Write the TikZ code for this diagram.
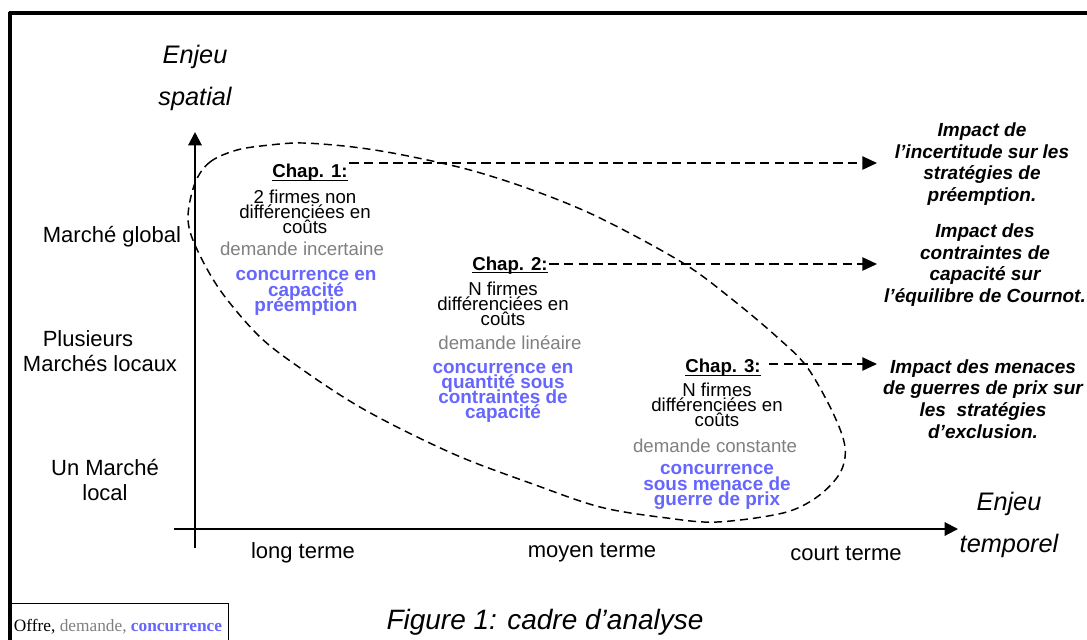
\documentclass[tikz,border=0pt]{standalone}
\usepackage{fontspec}
\setmainfont{Liberation Sans}
\newfontfamily\legendfont{Liberation Serif}
\usetikzlibrary{arrows.meta}
\definecolor{conc}{RGB}{102,102,255}
\definecolor{dem}{RGB}{128,128,128}
\newcommand{\fs}[2]{\fontsize{#1}{#2}\selectfont\lineskiplimit=-30pt\relax}
\newcommand{\chapul}[1]{\setbox0\hbox{#1}\rlap{\rule[-2.4pt]{\wd0}{0.9pt}}\box0}
\begin{document}
\begin{tikzpicture}[x=0.75pt,y=-0.75pt,
  lbl/.style={font=\fs{16.5}{19}, align=center, inner sep=0pt},
  ttl/.style={font=\itshape\fs{19}{31.5}, align=center, inner sep=0pt},
  chap/.style={font=\bfseries\fs{14}{14}, inner sep=1pt},
  body/.style={font=\fs{14}{11.25}, align=center, inner sep=0pt},
  dmd/.style={font=\fs{14}{11.25}, text=dem, inner sep=0pt},
  cnc/.style={font=\bfseries\fs{14.2}{11.4}, text=conc, align=center, inner sep=0pt},
  res/.style={font=\bfseries\itshape\fs{14.25}{16.2}, align=center, inner sep=0pt},
  axis/.style={line width=1.5pt, -{Triangle[length=10pt,width=10pt]}},
  link/.style={line width=1.1pt, dash pattern=on 7pt off 4pt, -{Triangle[length=11pt,width=10pt]}},
  egg/.style={line width=1.1pt, dash pattern=on 6pt off 3.75pt},
]
\useasboundingbox (0,0) rectangle (1087,639);
% frame
\draw[line width=3pt] (8.5,13) -- (1095,13);
\draw[line width=3pt] (10,11.5) -- (10,650);
% legend box
\draw[line width=0.75pt] (10,603) -- (228,603) -- (228,650);
\node[inner sep=0pt] (leg) at (118,627) {\legendfont\fs{13}{13}Offre, {\color{dem}demande,} \textcolor{conc}{\bfseries concurrence}};
% axes
\coordinate (yb) at (195,548);
\coordinate (yt) at (195,132);
\coordinate (xl) at (174,529);
\coordinate (xr) at (958,529);
\draw[axis] (yb) -- (yt);
\draw[axis] (xl) -- (xr);
% dashed egg
\draw[egg] plot[smooth cycle, tension=0.55] coordinates {
 (195,183) (210,162) (237,150) (270,145) (303,143) (353,147) (403,155) (470,170)
 (535,191) (600,218) (683,263) (733,300) (777,337) (807,367) (833,413) (845,447)
 (840,473) (817,497) (783,513) (717,522) (667,518) (600,507) (530,483) (463,458)
 (403,430) (353,403) (303,370) (260,337) (220,290) (195,245) (188,217)};
% axis titles
\node[ttl] (ys) at (195,78) {Enjeu\\spatial};
\node[ttl] (xs) at (1009,525) {Enjeu\\temporel};
% y labels
\node[lbl] (mg) at (112,237) {Marché global};
\node[lbl] (pm) at (100,351) {Plusieurs\hphantom{\kern18pt}\\Marchés locaux};
\node[lbl] (um) at (105,480) {Un Marché\\local};
% x labels
\node[lbl] (lt) at (303,553) {long terme};
\node[lbl] (mt) at (592,553) {moyen terme};
\node[lbl] (ct) at (846,553) {court terme};
% caption
\node[font=\itshape\fs{21}{21}, inner sep=0pt] (cap) at (545,622) {Figure 1: cadre d’analyse};
% chapter 1
\node[chap,anchor=base] (c1) at (310,177.5) {\chapul{Chap. 1:}};
\node[body] (b1) at (305,212) {2 firmes non\\différenciées en\\coûts};
\node[dmd] (d1) at (302,249) {demande incertaine};
\node[cnc] (k1) at (306,293) {concurrence en\\capacité\\préemption};
% chapter 2
\node[chap,anchor=base] (c2) at (510,270) {\chapul{Chap. 2:}};
\node[body] (b2) at (503,304) {N firmes\\différenciées en\\coûts};
\node[dmd] (d2) at (510,343) {demande linéaire};
\node[cnc] (k2) at (503,393) {concurrence en\\quantité sous\\contraintes de\\capacité};
% chapter 3
\node[chap,anchor=base] (c3) at (723,372.5) {\chapul{Chap. 3:}};
\node[body] (b3) at (717,405) {N firmes\\différenciées en\\coûts};
\node[dmd] (d3) at (715,446) {demande constante};
\node[cnc] (k3) at (717,487) {concurrence\\sous menace de\\guerre de prix};
% results
\node[res] (r1) at (982,164) {Impact de\\l’incertitude sur les\\stratégies de\\préemption.};
\node[res] (r2) at (985,265) {Impact des\\contraintes de\\capacité sur\\l’équilibre de Cournot.};
\node[res] (r3) at (983,399) {Impact des menaces\\de guerres de prix sur\\les\ \ stratégies\\d’exclusion.};
% links
\coordinate (e1) at (877,163);
\coordinate (e2) at (877,264);
\coordinate (e3) at (877,364);
\draw[link] (c1.east |- e1) -- (e1);
\draw[link] (c2.east |- e2) -- (e2);
\draw[link] ([xshift=5pt]c3.east |- e3) -- (e3);
\end{tikzpicture}
\end{document}
